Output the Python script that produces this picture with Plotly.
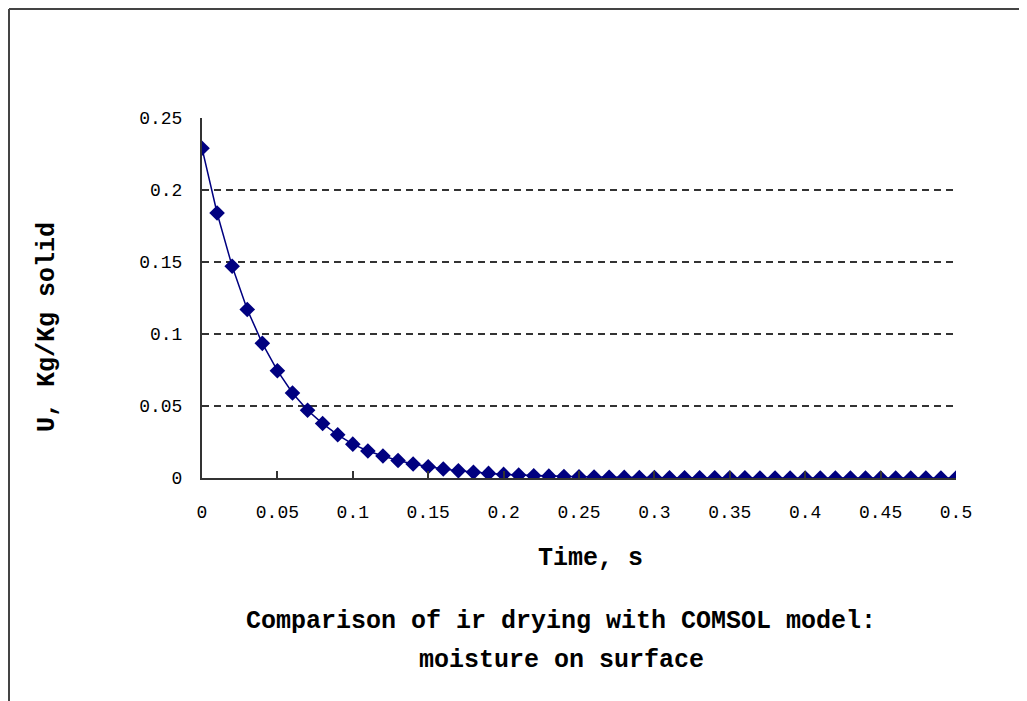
import plotly.graph_objects as go

# Data
time_s = [0.00, 0.01, 0.02, 0.03, 0.04, 0.05, 0.06, 0.07, 0.08, 0.09,
          0.10, 0.11, 0.12, 0.13, 0.14, 0.15, 0.16, 0.17, 0.18, 0.19,
          0.20, 0.21, 0.22, 0.23, 0.24, 0.25, 0.26, 0.27, 0.28, 0.29,
          0.30, 0.31, 0.32, 0.33, 0.34, 0.35, 0.36, 0.37, 0.38, 0.39,
          0.40, 0.41, 0.42, 0.43, 0.44, 0.45, 0.46, 0.47, 0.48, 0.49, 0.50]
moisture = [0.229, 0.184, 0.147, 0.117, 0.0935, 0.0745, 0.059, 0.047, 0.0378, 0.030,
            0.0235, 0.0188, 0.0153, 0.0122, 0.0097, 0.0078, 0.0062, 0.005, 0.004, 0.0032,
            0.0025, 0.002, 0.0016, 0.0013, 0.001, 0.0008, 0.0007, 0.0005, 0.0004, 0.0003,
            0.0003, 0.0002, 0.0002, 0.0001, 0.0001, 0.0001, 0.0001, 0.0, 0.0, 0.0,
            0.0, 0.0, 0.0, 0.0, 0.0, 0.0, 0.0, 0.0, 0.0, 0.0, 0.0]

x_ticks = [0, 0.05, 0.1, 0.15, 0.2, 0.25, 0.3, 0.35, 0.4, 0.45, 0.5]
x_tick_labels = ["0", "0.05", "0.1", "0.15", "0.2", "0.25", "0.3", "0.35", "0.4", "0.45", "0.5"]
y_ticks = [0, 0.05, 0.1, 0.15, 0.2, 0.25]
y_tick_labels = ["0", "0.05", "0.1", "0.15", "0.2", "0.25"]

x_title = "Time, s"
y_title = "U, Kg/Kg solid"
title_lines = ["Comparison of ir drying with COMSOL model:", "moisture on surface"]

# The page adds an 8px body margin; positions below are in page pixels
OFF = 8
W, H = 1027, 701
plot_left, plot_right, plot_top, plot_bottom = 202, 956, 118, 478
L = plot_left - OFF
R = W - (plot_right - OFF)
T = plot_top - OFF
B = H - (plot_bottom - OFF)
pw, ph = plot_right - plot_left, plot_bottom - plot_top

def px_x(p):
    return (p - plot_left) / pw

def px_y(p):
    return (plot_bottom - p) / ph

mono = "Liberation Mono, DejaVu Sans Mono, monospace"
navy = "#000080"

fig = go.Figure()
fig.add_trace(go.Scatter(
    x=time_s, y=moisture, mode="lines+markers",
    line=dict(color=navy, width=1.5),
    marker=dict(symbol="diamond", size=12, color=navy),
    showlegend=False,
))

fig.update_layout(
    width=W, height=H,
    margin=dict(l=L, r=R, t=T, b=B, autoexpand=False),
    paper_bgcolor="white", plot_bgcolor="white",
    font=dict(family=mono, size=15, color="black"),
    xaxis=dict(
        range=[0, 0.5], tickvals=x_ticks, ticktext=x_tick_labels,
        showgrid=False, zeroline=False,
        showline=True, linecolor="#333333", linewidth=2,
        ticks="inside", ticklen=7, tickwidth=2, tickcolor="#333333",
        ticklabelstandoff=16,
        tickfont=dict(family=mono, size=18, color="black"),
    ),
    yaxis=dict(
        range=[0, 0.25], tickvals=y_ticks, ticktext=y_tick_labels,
        showgrid=True, gridcolor="#333333", gridwidth=2, griddash="7px,5px",
        zeroline=False,
        showline=True, linecolor="#333333", linewidth=2,
        ticks="inside", ticklen=7, tickwidth=2, tickcolor="#333333",
        ticklabelstandoff=14,
        tickfont=dict(family=mono, size=18, color="black"),
    ),
)

bold_font = dict(family=mono, size=25, color="black")
annotations = [
    dict(text="<b>" + x_title + "</b>", x=px_x(590), y=px_y(558)),
    dict(text="<b>" + y_title + "</b>", x=px_x(47), y=px_y(327), textangle=-90),
    dict(text="<b>" + title_lines[0] + "</b>", x=px_x(561), y=px_y(621)),
    dict(text="<b>" + title_lines[1] + "</b>", x=px_x(561), y=px_y(660)),
]
for a in annotations:
    fig.add_annotation(xref="paper", yref="paper", showarrow=False,
                       xanchor="center", yanchor="middle", font=bold_font, **a)

# Outer chart frame (left and top edges visible)
fig.add_shape(type="line", xref="paper", yref="paper",
              x0=px_x(9), x1=px_x(9), y0=px_y(9), y1=px_y(730),
              line=dict(color="#444444", width=2))
fig.add_shape(type="line", xref="paper", yref="paper",
              x0=px_x(9), x1=px_x(1045), y0=px_y(9), y1=px_y(9),
              line=dict(color="#444444", width=2))

fig.write_html("out.html")
